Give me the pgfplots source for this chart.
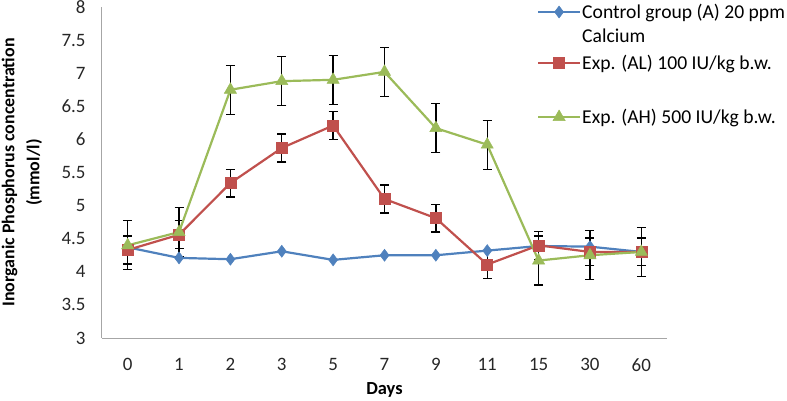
\documentclass[border=0pt]{standalone}
\usepackage{pgfplots}
\pgfplotsset{compat=1.18}
\usepackage{pgfplotstable}
\usepackage{fontspec}
\setmainfont{Carlito}
\definecolor{cblue}{HTML}{4F81BD}
\definecolor{cred}{HTML}{C0504D}
\definecolor{cgreen}{HTML}{9BBB59}
\definecolor{axgray}{HTML}{A6A6A6}

\pgfplotstableread{
x  y
0  4.37
1  4.21
2  4.19
3  4.31
4  4.18
5  4.25
6  4.25
7  4.32
8  4.39
9  4.38
10 4.30
}\controltab

\pgfplotstableread{
x  y     e
0  4.33  0.21
1  4.56  0.21
2  5.34  0.21
3  5.87  0.21
4  6.21  0.21
5  5.10  0.21
6  4.81  0.21
7  4.11  0.21
8  4.40  0.21
9  4.30  0.21
10 4.30  0.21
}\altab

\pgfplotstableread{
x  y     e
0  4.40  0.37
1  4.60  0.37
2  6.75  0.37
3  6.88  0.37
4  6.90  0.37
5  7.02  0.37
6  6.17  0.37
7  5.92  0.37
8  4.17  0.37
9  4.25  0.37
10 4.30  0.37
}\ahtab

\begin{document}
\begin{tikzpicture}
\useasboundingbox (-102bp,-63bp) rectangle (685bp,338bp);
\begin{axis}[
  scale only axis, width=565bp, height=331bp,
  xmin=-0.5, xmax=10.5, ymin=3, ymax=8,
  axis x line=bottom, axis y line=left,
  axis line style={-, axgray, line width=1bp},
  xtick={0,1,2,3,4,5,6,7,8,9,10},
  xticklabels={0,1,2,3,5,7,9,11,15,30,60},
  ytick={3,3.5,4,4.5,5,5.5,6,6.5,7,7.5,8},
  major tick length=0pt,
  /pgf/number format/assume math mode=true,
  tick label style={font=\fontsize{19}{22}\selectfont, text=black!85},
  xticklabel style={yshift=-17bp},
  yticklabel style={xshift=-13bp},
  xlabel={Days},
  xlabel style={font=\bfseries\fontsize{18.5}{20}\selectfont, at={(axis description cs:0.5,0)}, anchor=center, yshift=-52bp},
  ylabel={Inorganic Phosphorus concentration\\(mmol/l)},
  ylabel style={font=\bfseries\fontsize{18}{25}\selectfont, align=center, at={(axis description cs:-0.1416,0.5)}, anchor=center},
  legend image code/.code={\draw[mark repeat=2,mark phase=2] plot coordinates {(0bp,6bp) (21bp,6bp) (42bp,6bp)};},
  legend style={at={(axis description cs:0,1)}, anchor=north west, xshift=435bp, yshift=3bp,
    draw=none, fill=none, inner sep=0pt, outer sep=0pt, row sep=0pt, column sep=1bp,
    font=\fontsize{19.7}{22}\selectfont,
    nodes={inner sep=0pt, anchor=base west, text height=14bp, text depth=6bp}},
  clip=false,
  error bars/error bar style={black, line width=1.3bp},
  error bars/error mark options={black, rotate=90, mark size=4.5bp, line width=1.3bp},
]
\addplot[cblue, line width=2.2bp, mark=diamond*, mark size=6bp, mark options={solid, fill=cblue, draw=cblue, line width=0.5bp}]
  table[x=x, y=y] {\controltab};
\addlegendentry[text depth=10bp]{Control group (A) 20 ppm}
\addlegendimage{empty legend}
\addlegendentry[text depth=13bp]{Calcium}

\addplot[cred, line width=2.2bp, mark=square*, mark size=5.5bp, mark options={solid, fill=cred, draw=cred, line width=0.5bp},
  error bars/.cd, y dir=both, y explicit]
  table[x=x, y=y, y error=e] {\altab};
\addlegendentry[text depth=40bp]{Exp. (AL) 100 IU/kg b.w.}

\addplot[cgreen, line width=2.2bp, mark=triangle*, mark size=7bp, mark options={solid, fill=cgreen, draw=cgreen, line width=0.5bp},
  error bars/.cd, y dir=both, y explicit]
  table[x=x, y=y, y error=e] {\ahtab};
\addlegendentry{Exp. (AH) 500 IU/kg b.w.}
\end{axis}
\end{tikzpicture}
\end{document}
